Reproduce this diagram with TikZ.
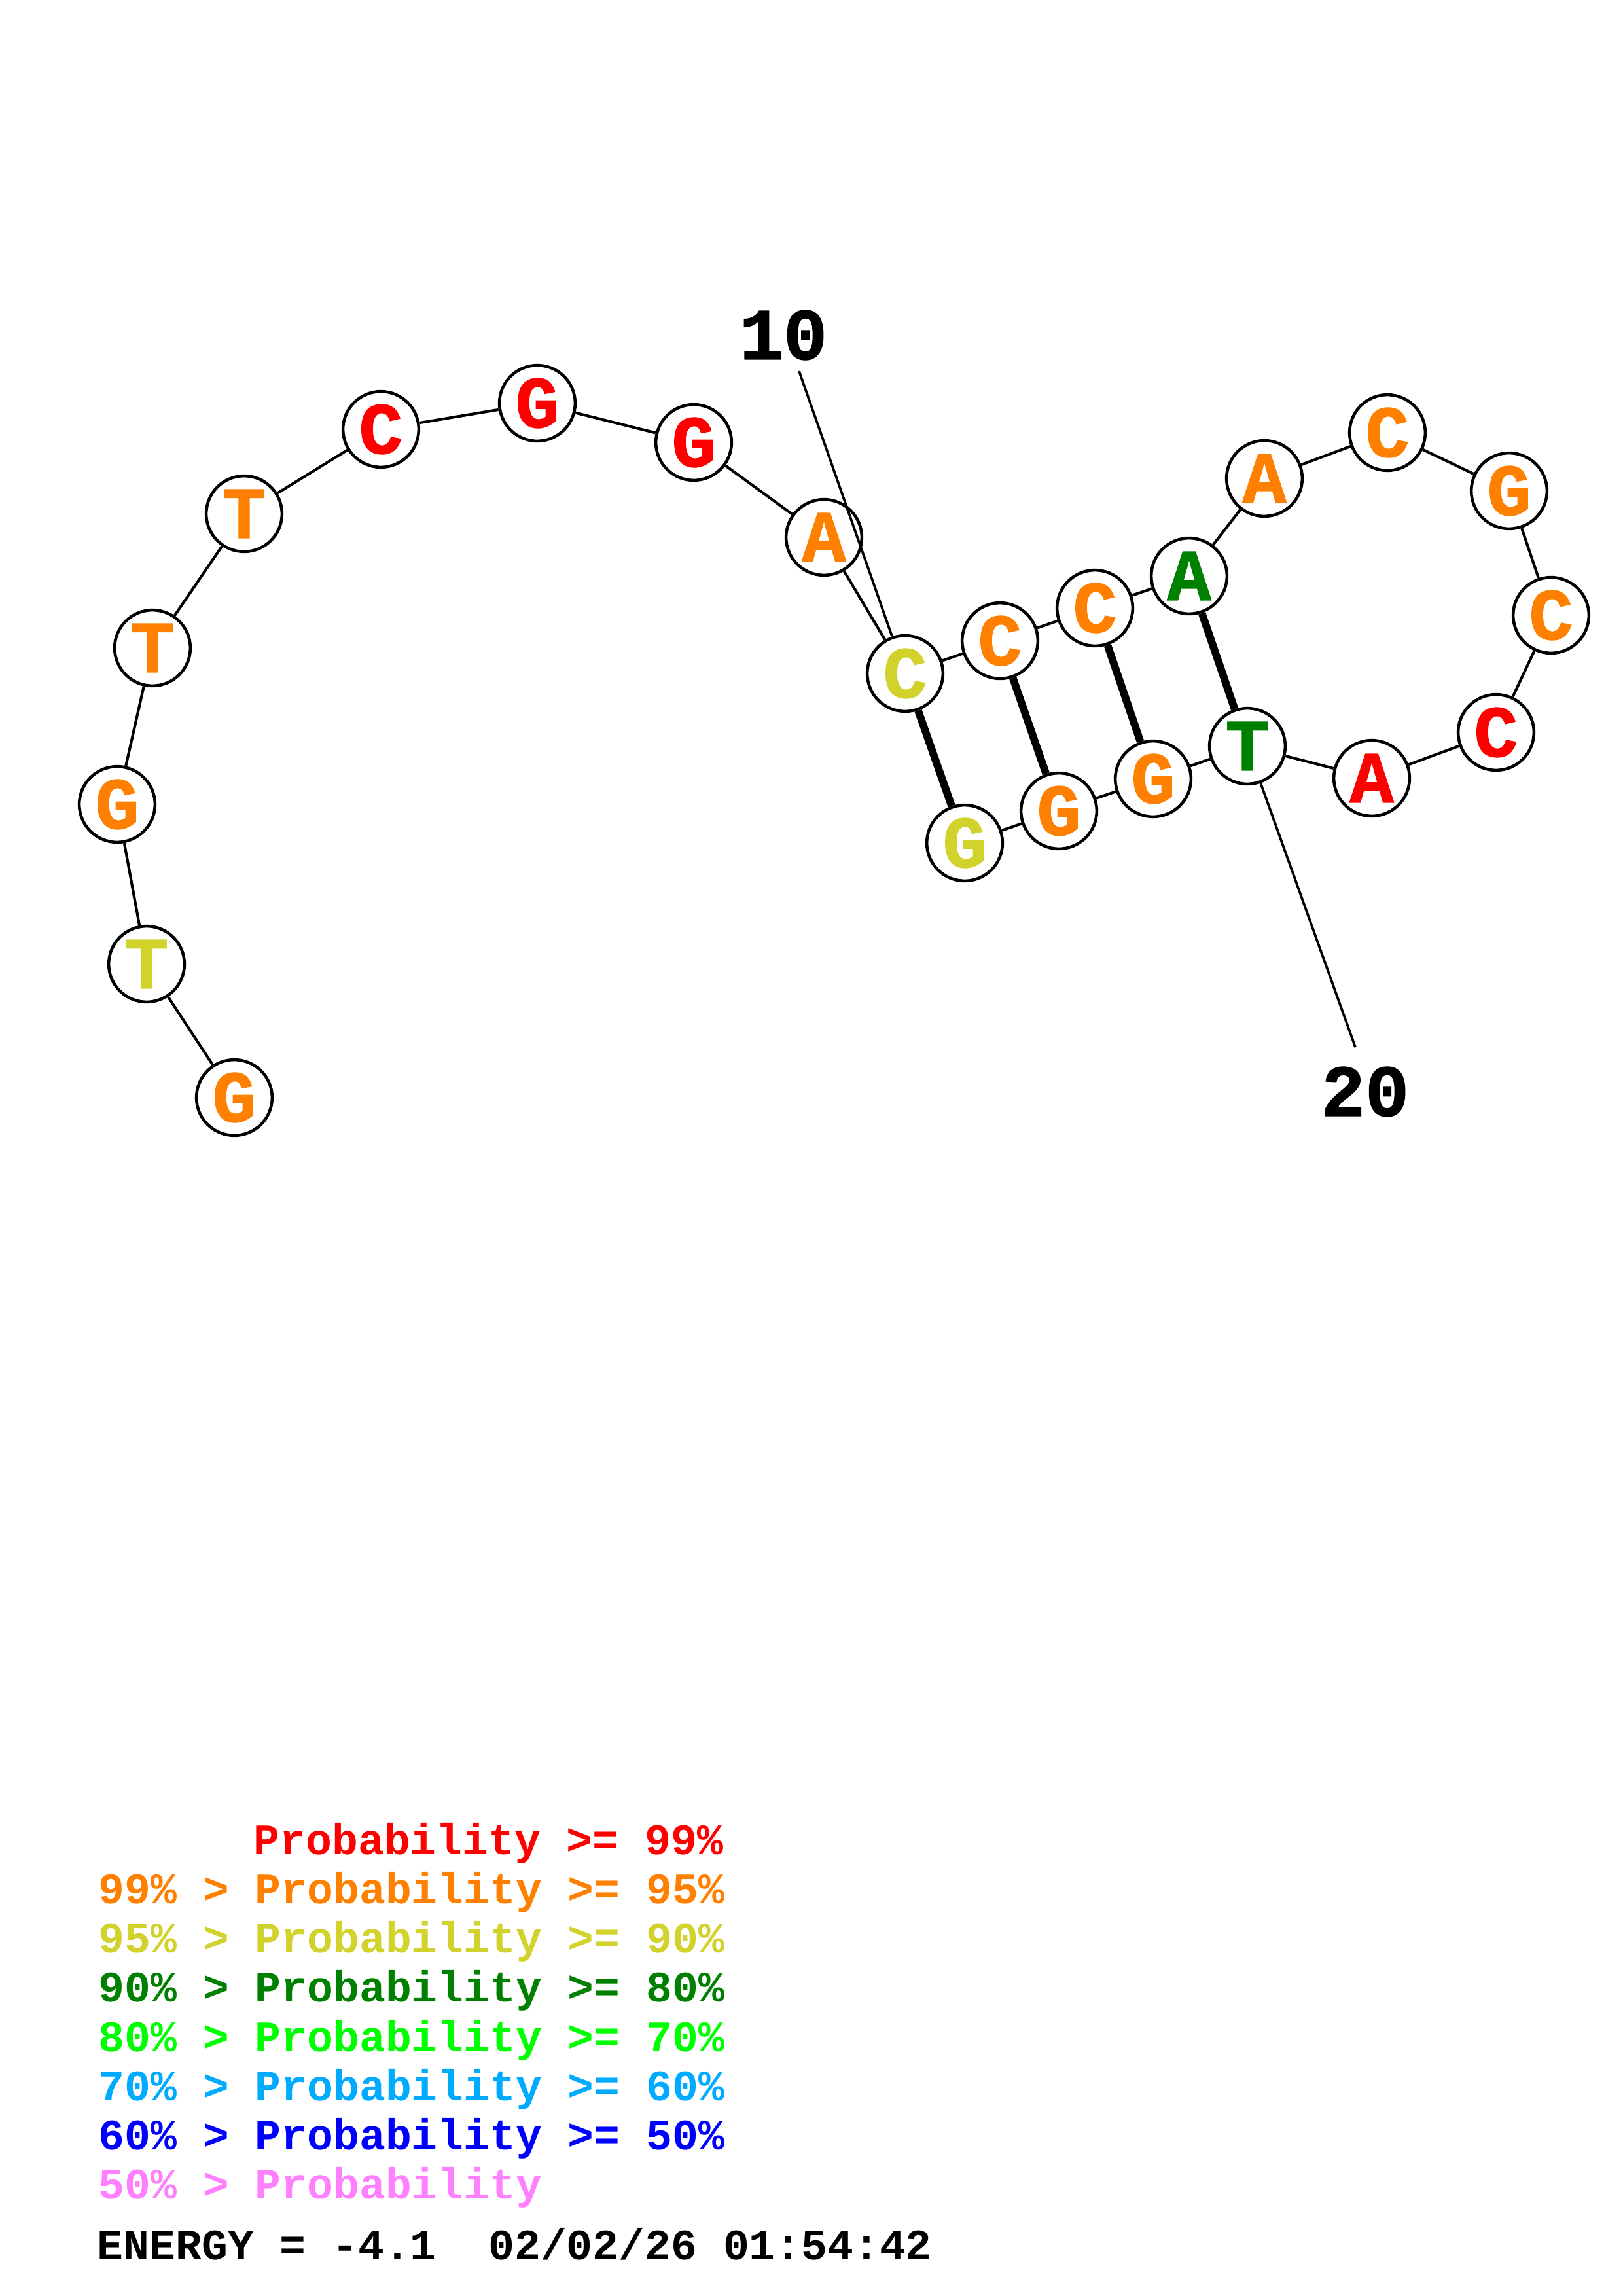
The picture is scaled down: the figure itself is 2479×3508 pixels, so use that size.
\documentclass[tikz,border=0pt]{standalone}
\usepackage{fontspec}
\setmonofont{Liberation Mono}
\newfontfamily\nucfont{Liberation Mono}[BoldFeatures={FakeBold=1.2}]
\usepackage{xcolor}
\usetikzlibrary{positioning}
\definecolor{prred}{HTML}{FF0000}
\definecolor{prorange}{HTML}{FF8000}
\definecolor{pryellow}{HTML}{D2D22D}
\definecolor{prdkgreen}{HTML}{008000}
\definecolor{prgreen}{HTML}{00FF00}
\definecolor{prltblue}{HTML}{00AAFF}
\definecolor{prblue}{HTML}{0000FF}
\definecolor{prpink}{HTML}{FF80FF}

\begin{document}
\begin{tikzpicture}[
  x=0.008471cm, y=-0.008471cm,
  nuc/.style={
    circle, draw=black, line width=1.1pt, fill=white,
    minimum size=0.98cm, inner sep=0pt, text=#1,
    font=\nucfont\bfseries\fontsize{27}{27}\selectfont
  },
  nuc/.default=prorange,
  bb/.style={line width=1pt},
  pair/.style={line width=2.8pt},
  idx/.style={inner sep=0pt, font=\nucfont\bfseries\fontsize{27}{27}\selectfont},
  idxline/.style={line width=0.9pt},
  leg/.style={anchor=base west, inner sep=0pt, text=#1,
    font=\ttfamily\bfseries\fontsize{16}{16}\selectfont},
]
\useasboundingbox (0,0) rectangle (2479,3508);

% --- 5' tail ---
\node[nuc=prorange] (n1) at (358,1677) {G};
\node[nuc=pryellow] (n2) at (224,1473) {T};
\node[nuc=prorange] (n3) at (179,1229) {G};
\node[nuc=prorange] (n4) at (233,990) {T};
\node[nuc=prorange] (n5) at (373,785) {T};
\node[nuc=prred] (n6) at (582,656) {C};
\node[nuc=prred] (n7) at (821,616) {G};
\node[nuc=prred] (n8) at (1060,676) {G};
\node[nuc=prorange] (n9) at (1259,821) {A};

% --- Stem, 5' side ---
\node[nuc=pryellow] (n10) at (1383,1029) {C};
\node[nuc=prorange] (n11) at (1528,979) {C};
\node[nuc=prorange] (n12) at (1673,929) {C};
\node[nuc=prdkgreen] (n13) at (1817,880) {A};

% --- Hairpin loop ---
\node[nuc=prorange] (n14) at (1932,731) {A};
\node[nuc=prorange] (n15) at (2120,661) {C};
\node[nuc=prorange] (n16) at (2306,750) {G};
\node[nuc=prorange] (n17) at (2370,940) {C};
\node[nuc=prred] (n18) at (2286,1119) {C};
\node[nuc=prred] (n19) at (2096,1189) {A};

% --- Stem, 3' side ---
\node[nuc=prdkgreen] (n20) at (1906,1140) {T};
\node[nuc=prorange] (n21) at (1762,1190) {G};
\node[nuc=prorange] (n22) at (1618,1239) {G};
\node[nuc=pryellow] (n23) at (1474,1288) {G};

% --- Backbone ---
\draw[bb] (n1) -- (n2) -- (n3) -- (n4) -- (n5) -- (n6) -- (n7) -- (n8)
  -- (n9) -- (n10) -- (n11) -- (n12) -- (n13) -- (n14) -- (n15) -- (n16)
  -- (n17) -- (n18) -- (n19) -- (n20) -- (n21) -- (n22) -- (n23);

% --- Base pairs ---
\draw[pair] (n10) -- (n23);
\draw[pair] (n11) -- (n22);
\draw[pair] (n12) -- (n21);
\draw[pair] (n13) -- (n20);

% --- Numbering ---
\node[idx] (lbl10) at (1197,512) {10};
\coordinate (tick10) at (1221,567);
\draw[idxline] (tick10) -- (n10);
\node[idx] (lbl20) at (2086,1668) {20};
\coordinate (tick20) at (2071,1600);
\draw[idxline] (tick20) -- (n20);

% --- Legend ---
\node[leg=prred] (p99) at (387,2833) {Probability >= 99\%};
\node[leg=prorange] (p95) at (150,2908) {99\% > Probability >= 95\%};
\node[leg=pryellow] (p90) at (150,2983) {95\% > Probability >= 90\%};
\node[leg=prdkgreen] (p80) at (150,3058) {90\% > Probability >= 80\%};
\node[leg=prgreen] (p70) at (150,3134) {80\% > Probability >= 70\%};
\node[leg=prltblue] (p60) at (150,3209) {70\% > Probability >= 60\%};
\node[leg=prblue] (p50) at (150,3284) {60\% > Probability >= 50\%};
\node[leg=prpink] (p00) at (150,3359) {50\% > Probability};
\node[leg=black] (energy) at (148,3452) {ENERGY = -4.1 \ 02/02/26 01:54:42};

\end{tikzpicture}
\end{document}
